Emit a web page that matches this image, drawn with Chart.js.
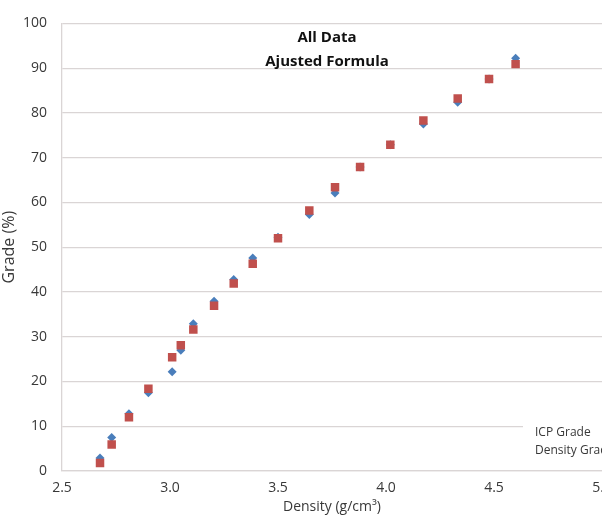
<!DOCTYPE html>
<html>
<head>
<meta charset="utf-8">
<title>All Data - Ajusted Formula</title>
<script src="https://cdn.jsdelivr.net/npm/chart.js@4/dist/chart.umd.min.js"></script>
<style>
  html, body { margin: 0; padding: 0; background: #fff; overflow: hidden; }
  #wrap { width: 640px; height: 516px; }
</style>
</head>
<body>
<div id="wrap"><canvas id="chart" width="640" height="516"></canvas></div>
<script>
// Density (g/cm3) of each sample.
const density = [2.676, 2.730, 2.810, 2.900, 3.010, 3.050, 3.108, 3.204, 3.295,
  3.383, 3.500, 3.645, 3.764, 3.880, 4.020, 4.173, 4.332, 4.477, 4.600];
// Grade (%) by ICP assay.
const icpGrade = [2.9, 7.5, 12.8, 17.5, 22.2, 27.0, 32.9, 37.9, 42.8,
  47.6, 52.2, 57.3, 62.1, 67.9, 72.9, 77.5, 82.4, 87.6, 92.2];
// Grade (%) from the adjusted density formula.
const densityGrade = [1.8, 5.9, 12.0, 18.4, 25.4, 28.1, 31.6, 36.9, 41.9,
  46.3, 52.0, 58.2, 63.4, 67.9, 72.9, 78.3, 83.2, 87.6, 90.9];

const seriesNames = ["ICP Grade", "Density Grade"];
const titleLines = ["All Data", "Ajusted Formula"];
const xTicks = [2.5, 3.0, 3.5, 4.0, 4.5, 5.0];
const yTicks = [0, 10, 20, 30, 40, 50, 60, 70, 80, 90, 100];

const FONT = "'Open Sans', 'Liberation Sans', sans-serif";
const TEXT = "#383838";
const GRID = "#dad5d5";

const toPoints = ys => density.map((d, i) => ({ x: d, y: ys[i] }));

// Title and legend sit inside the plot area, as in the original sheet.
const overlay = {
  id: "overlay",
  afterDraw(chart) {
    const { ctx, chartArea } = chart;
    const cx = (chartArea.left + chartArea.right) / 2 - 5;
    ctx.save();
    ctx.fillStyle = "#111";
    ctx.textAlign = "center";
    ctx.textBaseline = "middle";
    ctx.font = "bold 15px " + FONT;
    titleLines.forEach((t, i) => ctx.fillText(t, cx, chartArea.top + 14 + i * 24));

    // legend box (cut by the right edge)
    const lx = chartArea.right - 79, ly = chartArea.bottom - 56;
    ctx.fillStyle = "#fff";
    ctx.fillRect(lx, ly, 120, 48);
    ctx.fillStyle = TEXT;
    ctx.textAlign = "left";
    ctx.font = "12px " + FONT;
    seriesNames.forEach((t, i) => ctx.fillText(t, lx + 12, ly + 18 + i * 18));
    ctx.restore();
  },
};

new Chart(document.getElementById("chart"), {
  type: "scatter",
  data: {
    datasets: [
      { label: seriesNames[0], data: toPoints(icpGrade), order: 1,
        pointStyle: "rectRot", pointRadius: 4.5, pointHoverRadius: 4.5,
        backgroundColor: "#4a7ebb", borderColor: "#4a7ebb", borderWidth: 0 },
      { label: seriesNames[1], data: toPoints(densityGrade), order: 0,
        pointStyle: "rect", pointRadius: 6, pointHoverRadius: 6,
        backgroundColor: "#c0504d", borderColor: "#c0504d", borderWidth: 0 },
    ],
  },
  options: {
    responsive: false,
    animation: false,
    layout: { padding: { top: 17, right: 38, left: 0, bottom: 0 } },
    plugins: { legend: { display: false }, tooltip: { enabled: false } },
    scales: {
      x: {
        type: "linear", min: 2.5, max: 5,
        afterBuildTicks: s => { s.ticks = xTicks.map(v => ({ value: v })); },
        afterFit: s => { s.height = 45; },
        grid: { display: false, drawTicks: false },
        border: { color: GRID, width: 1.3 },
        ticks: { padding: 9, color: TEXT, font: { family: FONT, size: 14 },
                 maxRotation: 0, callback: v => Number(v).toFixed(1) },
        title: { display: true, text: "Density (g/cm³)", color: TEXT,
                 font: { family: FONT, size: 14 }, padding: { top: 0, bottom: 1 } },
      },
      y: {
        min: 0, max: 100,
        afterBuildTicks: s => { s.ticks = yTicks.map(v => ({ value: v })); },
        afterFit: s => { s.width = 62; },
        grid: { color: GRID, lineWidth: 1.3, drawTicks: false },
        border: { color: GRID, width: 1.3 },
        ticks: { padding: 15, color: TEXT, font: { family: FONT, size: 14 } },
        title: { display: true, text: "Grade (%)", color: TEXT,
                 font: { family: FONT, size: 16 }, padding: { top: 0, bottom: 2 } },
      },
    },
  },
  plugins: [overlay],
});
</script>
</body>
</html>
